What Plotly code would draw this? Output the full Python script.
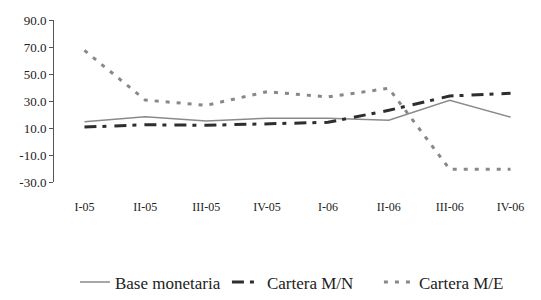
import plotly.graph_objects as go

categories = ["I-05", "II-05", "III-05", "IV-05", "I-06", "II-06", "III-06", "IV-06"]
base_monetaria = [14.7, 18.4, 15.2, 17.2, 17.2, 15.7, 30.5, 18.1]
cartera_mn = [10.7, 12.4, 12.0, 13.2, 14.2, 23.1, 33.7, 35.7]
cartera_me = [67.5, 30.7, 26.8, 36.9, 33.0, 39.4, -20.6, -20.6]
y_ticks = [90, 70, 50, 30, 10, -10, -30]
y_ticktext = ["90.0", "70.0", "50.0", "30.0", "10.0", "-10.0", "-30.0"]

FONT = "Liberation Serif"

fig = go.Figure()
fig.add_trace(go.Scatter(x=categories, y=base_monetaria, name="Base monetaria", mode="lines",
                         line=dict(color="#8a8a8a", width=1.5)))
fig.add_trace(go.Scatter(x=categories, y=cartera_mn, name="Cartera M/N", mode="lines",
                         line=dict(color="#2e2e2e", width=3, dash="12px,6px,4px,8px")))
fig.add_trace(go.Scatter(x=categories, y=cartera_me, name="Cartera M/E", mode="lines",
                         line=dict(color="#888888", width=3, dash="4px,7px")))

fig.update_layout(
    width=533, height=292,
    margin=dict(l=46, r=0, t=12, b=118, autoexpand=False),
    paper_bgcolor="white", plot_bgcolor="white",
    font=dict(family=FONT, color="#222222", size=12),
    showlegend=True,
    legend=dict(orientation="h", x=0.043, xanchor="left", y=-0.62, yanchor="middle",
                font=dict(family=FONT, size=17, color="#222222"), bgcolor="rgba(0,0,0,0)",
                itemwidth=30, entrywidth=107, entrywidthmode="pixels"),
    xaxis=dict(type="category", categoryarray=categories, range=[-0.5, 7.5],
               showline=False, showgrid=False, zeroline=False, ticks="",
               ticklabelstandoff=16, tickfont=dict(family=FONT, size=12)),
    xaxis2=dict(overlaying="x", anchor="free", position=0.25, range=[-0.5, 7.5],
                tickvals=[0.5, 1.5, 2.5, 3.5, 4.5, 5.5, 6.5], showticklabels=False,
                showline=True, linecolor="#222222", linewidth=1.5, ticks="outside",
                ticklen=4, tickcolor="#444444", tickwidth=1, showgrid=False, zeroline=False),
    yaxis=dict(range=[-30, 90], tickvals=y_ticks, ticktext=y_ticktext,
               showline=True, linecolor="#555555", linewidth=1, ticks="outside",
               ticklen=4, tickcolor="#555555", showgrid=False, zeroline=False,
               tickfont=dict(family=FONT, size=13)),
)

fig.write_html("out.html")
